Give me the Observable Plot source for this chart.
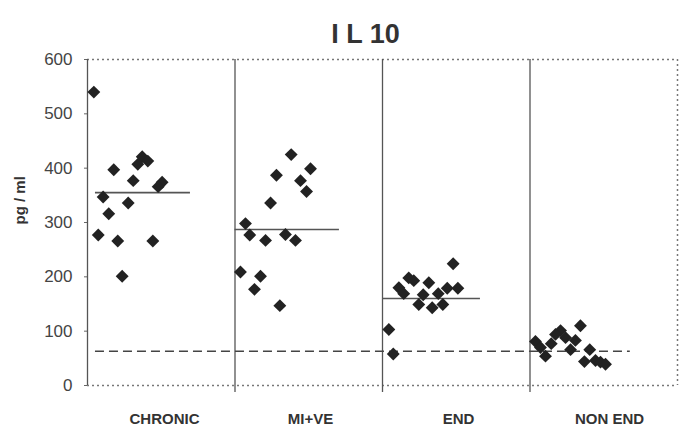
<!DOCTYPE html>
<html><head><meta charset="utf-8">
<script src="https://cdn.jsdelivr.net/npm/d3@7"></script>
<script src="https://cdn.jsdelivr.net/npm/@observablehq/plot@0.6"></script>
<style>
html,body{margin:0;padding:0;background:#fff;}
#chart svg{display:block;}
</style>
</head><body><div id="chart"></div>
<script>
const categories = ["CHRONIC", "MI+VE", "END", "NON END"];
const labelPos = [0.522, 1.512, 2.515, 3.539];
const yTicks = [0, 100, 200, 300, 400, 500, 600];

// horizontal position of each point within its group (group i spans i..i+1)
const chronicX = [0.043, 0.178, 0.371, 0.341, 0.409, 0.310, 0.506, 0.479, 0.106, 0.276, 0.144, 0.073, 0.205, 0.443, 0.235];
const chronicY = [540, 397, 421, 407, 413, 377, 374, 366, 347, 336, 316, 277, 266, 266, 201];

const miveX = [1.381, 1.512, 1.281, 1.444, 1.485, 1.241, 1.071, 1.100, 1.207, 1.342, 1.410, 1.037, 1.173, 1.132, 1.304];
const miveY = [425, 399, 387, 377, 357, 336, 298, 277, 267, 278, 267, 209, 201, 177, 147];

const endX = [2.479, 2.178, 2.212, 2.314, 2.111, 2.144, 2.439, 2.511, 2.276, 2.378, 2.246, 2.337, 2.409, 2.043, 2.073];
const endY = [224, 198, 193, 189, 180, 169, 179, 179, 167, 169, 149, 143, 149, 103, 58];

const nonEndX = [3.342, 3.207, 3.173, 3.037, 3.071, 3.144, 3.241, 3.308, 3.275, 3.105, 3.405, 3.369, 3.444, 3.478, 3.512];
const nonEndY = [110, 101, 94, 81, 70, 77, 88, 83, 66, 54, 66, 44, 46, 43, 39];

const meanValues = [355, 287, 160];
const meanStart = [0.054, 1.0, 2.0];
const meanEnd = [0.698, 1.708, 2.664];

const refValue = [63];
const refStart = [0.054];
const refEnd = [3.68];

const dividers = [1, 2, 3];

const groupsX = [chronicX, miveX, endX, nonEndX];
const groupsY = [chronicY, miveY, endY, nonEndY];
const points = [];
groupsX.forEach((xs, g) => xs.forEach((x, i) => points.push({group: categories[g], x, y: groupsY[g][i]})));
const means = meanValues.map((v, i) => ({v, x1: meanStart[i], x2: meanEnd[i]}));
const refs = refValue.map((v, i) => ({v, x1: refStart[i], x2: refEnd[i]}));

const font = "'Liberation Sans', Arial, sans-serif";
const chart = Plot.plot({
  width: 681,
  height: 431,
  marginTop: 59,
  marginBottom: 46,
  marginLeft: 87,
  marginRight: 4,
  style: {fontFamily: font, background: "#fff", color: "#333", overflow: "visible"},
  x: {type: "linear", domain: [0, 4]},
  y: {domain: [0, 600]},
  marks: [
    Plot.axisY({ticks: yTicks, tickSize: 3, tickPadding: 12, fontSize: 17, label: null, stroke: "#666", fill: "#444"}),
    Plot.axisX({ticks: labelPos, tickSize: 0, tickPadding: 28, fontSize: 15, fontWeight: "bold", fill: "#333",
      tickFormat: (d, i) => categories[i], label: null}),
    Plot.text(["pg / ml"], {frameAnchor: "left", dx: -67, dy: 2, rotate: -90, fontSize: 15, fontWeight: "bold", fill: "#333"}),
    Plot.text(["I L 10"], {frameAnchor: "top", dx: -17, dy: -36, fontSize: 27, fontWeight: "bold", fill: "#333", lineAnchor: "top"}),
    // frame
    Plot.ruleY([600], {stroke: "#777", strokeDasharray: "2,3", strokeWidth: 1.5}),
    Plot.ruleY([0], {stroke: "#777", strokeDasharray: "2,3", strokeWidth: 1.5}),
    Plot.ruleX([4], {stroke: "#777", strokeDasharray: "2,3", strokeWidth: 1.5}),
    Plot.ruleX([0], {stroke: "#555", strokeWidth: 1.3}),
    Plot.ruleX(dividers, {y1: -13, y2: 600, stroke: "#555", strokeWidth: 1.3}),
    // means and reference
    Plot.ruleY(means, {y: "v", x1: "x1", x2: "x2", stroke: "#555", strokeWidth: 1.6}),
    Plot.ruleY(refs, {y: "v", x1: "x1", x2: "x2", stroke: "#444", strokeWidth: 1.5, strokeDasharray: "9,5"}),
    Plot.dot(points, {x: "x", y: "y", symbol: "diamond2", r: 5.8, fill: "#222", stroke: "none"})
  ]
});
document.getElementById("chart").appendChild(chart);
</script>
</body></html>
